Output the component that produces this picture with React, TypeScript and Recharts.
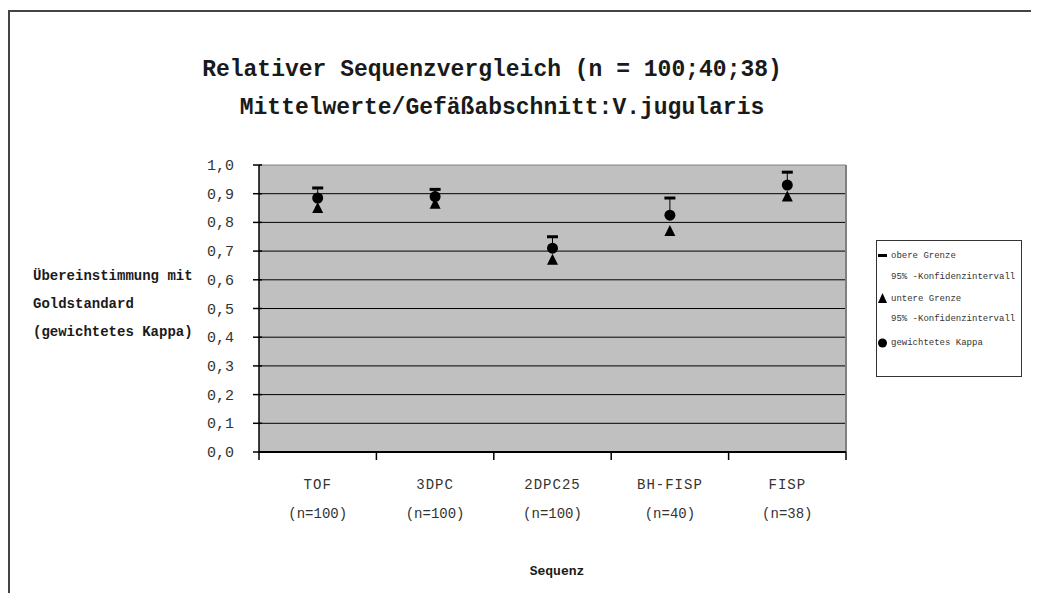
import React from "react";
import {
  CartesianGrid,
  ComposedChart,
  ErrorBar,
  Scatter,
  XAxis,
  YAxis
} from "recharts";

const categories = ["TOF", "3DPC", "2DPC25", "BH-FISP", "FISP"];
const sampleSizes = ["(n=100)", "(n=100)", "(n=100)", "(n=40)", "(n=38)"];
const upperBound = [0.92, 0.915, 0.75, 0.885, 0.975];
const kappa = [0.885, 0.89, 0.71, 0.825, 0.93];
const lowerBound = [0.85, 0.865, 0.67, 0.77, 0.89];
const yTicks = [0, 0.1, 0.2, 0.3, 0.4, 0.5, 0.6, 0.7, 0.8, 0.9, 1.0];

const MONO = '"Liberation Mono", "DejaVu Sans Mono", monospace';
const W = 1023;
const H = 585;
const MARGIN = { top: 157, right: 185, bottom: 81, left: 191 };
const Y_AXIS_W = 60;
const X_AXIS_H = 60;
const PLOT_W = W - MARGIN.left - MARGIN.right - Y_AXIS_W;
const BAND = PLOT_W / categories.length;

const data = categories.map((name, i) => ({
  name,
  n: sampleSizes[i],
  upper: upperBound[i],
  kappa: kappa[i],
  lower: lowerBound[i],
  err: [0, upperBound[i] - kappa[i]]
}));

function DashShape({ cx, cy }: any) {
  return <rect x={cx - 5.5} y={cy - 1.5} width={11} height={3} fill="#000" />;
}

function TriangleShape({ cx, cy }: any) {
  return (
    <polygon
      points={`${cx},${cy - 6} ${cx - 5.5},${cy + 5} ${cx + 5.5},${cy + 5}`}
      fill="#000"
    />
  );
}

function CircleShape({ cx, cy }: any) {
  return <circle cx={cx} cy={cy} r={5.5} fill="#000" />;
}

function CategoryTick({ x, y, payload, index }: any) {
  const last = index === categories.length - 1;
  return (
    <g>
      <line x1={x - BAND / 2} x2={x - BAND / 2} y1={y} y2={y + 8} stroke="#000" strokeWidth={1.5} />
      {last && (
        <line x1={x + BAND / 2} x2={x + BAND / 2} y1={y} y2={y + 8} stroke="#000" strokeWidth={1.5} />
      )}
      <text x={x} y={y + 37} textAnchor="middle" fontFamily={MONO} fontSize={14} fill="#333" letterSpacing={1}>
        {payload.value}
      </text>
      <text x={x} y={y + 66} textAnchor="middle" fontFamily={MONO} fontSize={14} fill="#333">
        {sampleSizes[index]}
      </text>
    </g>
  );
}

function ValueTick({ x, y, payload }: any) {
  return (
    <g>
      <line x1={x - 6} x2={x + 3} y1={y} y2={y} stroke="#000" strokeWidth={1.5} />
      <text x={x - 25} y={y + 5} textAnchor="end" fontFamily={MONO} fontSize={15} fill="#333">
        {payload.value.toFixed(1).replace(".", ",")}
      </text>
    </g>
  );
}

function GridLine(p: any) {
  const vertical = p.x1 === p.x2;
  const edge = !vertical && p.y1 < MARGIN.top + 1;
  return (
    <line
      key={p.key}
      x1={p.x1}
      y1={p.y1}
      x2={p.x2}
      y2={p.y2}
      stroke={edge || vertical ? "#808080" : "#000"}
      strokeWidth={vertical ? 2 : 1}
    />
  );
}

function LegendBox() {
  const text = { position: "absolute" as const, left: 14, fontFamily: MONO, fontSize: 9, color: "#333", lineHeight: "10px", whiteSpace: "nowrap" as const };
  return (
    <div
      style={{
        position: "absolute",
        left: 868,
        top: 232,
        width: 144,
        height: 135,
        border: "1px solid #333",
        background: "#fff"
      }}
    >
      <svg style={{ position: "absolute", left: 0, top: 0 }} width={14} height={135}>
        <rect x={1} y={13} width={9} height={3} fill="#000" />
        <polygon points="5.5,52 1,62 10,62" fill="#000" />
        <circle cx={5.5} cy={102} r={4.5} fill="#000" />
      </svg>
      <div style={{ ...text, top: 10 }}>obere Grenze</div>
      <div style={{ ...text, top: 31 }}>95% -Konfidenzintervall</div>
      <div style={{ ...text, top: 53 }}>untere Grenze</div>
      <div style={{ ...text, top: 73 }}>95% -Konfidenzintervall</div>
      <div style={{ ...text, top: 97 }}>gewichtetes Kappa</div>
    </div>
  );
}

export default function App() {
  const label = { position: "absolute" as const, fontFamily: MONO, fontWeight: 700, color: "#1a1a1a", whiteSpace: "nowrap" as const };
  return (
    <div style={{ position: "relative", width: W, height: H, background: "#fff" }}>
      <style>{"html { overflow: hidden; }"}</style>
      <div style={{ position: "absolute", left: 0, top: 2, width: 1040, height: 2, background: "#444" }} />
      <div style={{ position: "absolute", left: 0, top: 2, width: 2, height: 600, background: "#444" }} />
      <div style={{ ...label, left: 0, width: 968, top: 48, textAlign: "center", fontSize: 23, lineHeight: "28px" }}>
        Relativer Sequenzvergleich (n = 100;40;38)
      </div>
      <div style={{ ...label, left: 0, width: 988, top: 86, textAlign: "center", fontSize: 23, lineHeight: "28px" }}>
        Mittelwerte/Gefäßabschnitt:V.jugularis
      </div>
      <div style={{ ...label, left: 25, top: 254, fontSize: 14, lineHeight: "28px" }}>
        Übereinstimmung mit
        <br />
        Goldstandard
        <br />
        (gewichtetes Kappa)
      </div>
      <div style={{ ...label, left: 0, width: 1098, top: 556, textAlign: "center", fontSize: 13, lineHeight: "16px" }}>
        Sequenz
      </div>
      <ComposedChart
        width={W}
        height={H}
        data={data}
        margin={MARGIN}
        style={{ position: "absolute", left: 0, top: 0 }}
      >
        <CartesianGrid
          fill="#c0c0c0"
          horizontal={GridLine}
          vertical={GridLine}
          verticalCoordinatesGenerator={({ offset }: any) => [offset.left + offset.width]}
        />
        <XAxis
          dataKey="name"
          type="category"
          height={X_AXIS_H}
          padding={{ left: BAND / 2, right: BAND / 2 }}
          tickLine={false}
          tickSize={0}
          tickMargin={0}
          axisLine={{ stroke: "#000", strokeWidth: 2 }}
          tick={CategoryTick}
          interval={0}
        />
        <YAxis
          type="number"
          domain={[0, 1]}
          ticks={yTicks}
          width={Y_AXIS_W}
          tickLine={false}
          tickSize={0}
          tickMargin={0}
          axisLine={{ stroke: "#000", strokeWidth: 1.5 }}
          tick={ValueTick}
          interval={0}
        />
        <Scatter dataKey="lower" shape={TriangleShape} isAnimationActive={false} />
        <Scatter dataKey="kappa" shape={CircleShape} isAnimationActive={false}>
          <ErrorBar dataKey="err" direction="y" width={0} stroke="#000" strokeWidth={1} />
        </Scatter>
        <Scatter dataKey="upper" shape={DashShape} isAnimationActive={false} />
      </ComposedChart>
      <LegendBox />
    </div>
  );
}
